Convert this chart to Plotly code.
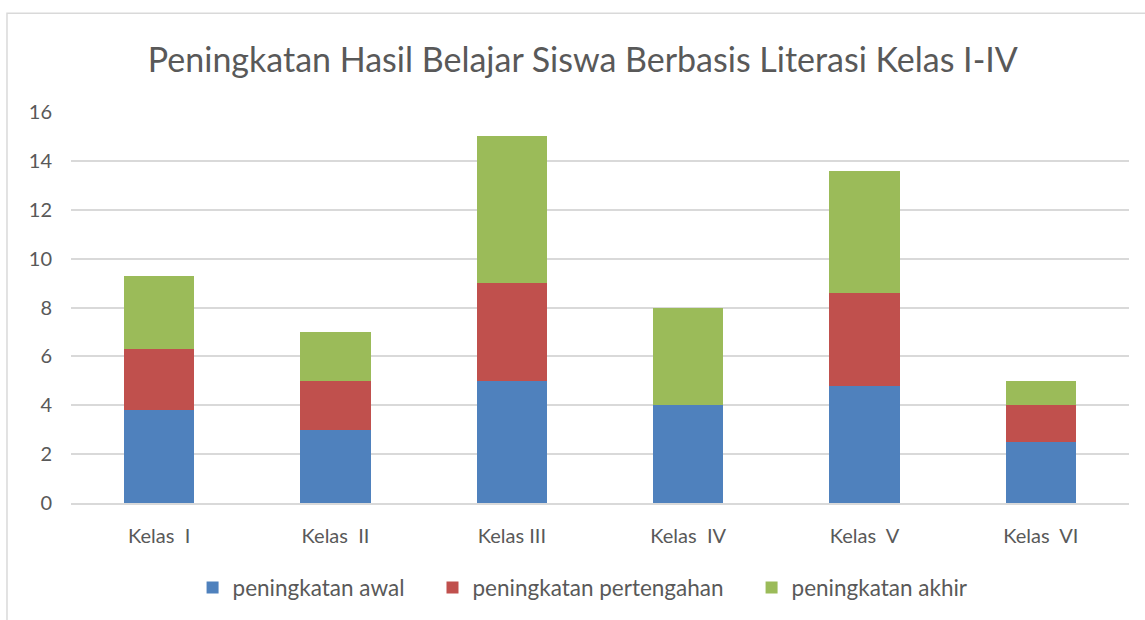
import plotly.graph_objects as go

categories = ["Kelas  I", "Kelas  II", "Kelas III", "Kelas  IV", "Kelas  V", "Kelas  VI"]
awal = [3.8, 3, 5, 4, 4.8, 2.5]
pertengahan = [2.5, 2, 4, 0, 3.8, 1.5]
akhir = [3, 2, 6, 4, 5, 1]
series_names = ["peningkatan awal", "peningkatan pertengahan", "peningkatan akhir"]
colors = ["#4f81bd", "#c0504d", "#9bbb59"]

pad = "\u00a0" * 4
fig = go.Figure()
for i, (name, vals, col) in enumerate(zip(series_names, [awal, pertengahan, akhir], colors)):
    label = name + (pad if i < len(series_names) - 1 else "")
    fig.add_trace(go.Bar(x=categories, y=vals, name=label, marker_color=col,
                         marker_line_width=0))

font_family = "Lato, 'Open Sans', sans-serif"
fig.update_layout(
    barmode="stack",
    bargap=0.6,
    width=1145, height=620,
    paper_bgcolor="white", plot_bgcolor="white",
    margin=dict(l=71, r=16, t=112, b=116),
    title=dict(text="Peningkatan Hasil Belajar Siswa Berbasis Literasi Kelas I-IV",
               x=0.509, xanchor="center", y=0.903, yanchor="middle",
               font=dict(family=font_family, size=34, color="#595959")),
    font=dict(family=font_family, size=20, color="#595959"),
    legend=dict(orientation="h", x=0.484, xanchor="center", y=-0.214, yanchor="middle",
                font=dict(size=22.5, color="#595959"), traceorder="normal",
                itemwidth=30),
    shapes=[dict(type="rect", xref="paper", yref="paper",
                 x0=-0.0605, x1=1.1, y0=-0.5, y1=1.2526,
                 line=dict(color="#d9d9d9", width=1.5), layer="below")],
)
fig.update_yaxes(range=[0, 16], dtick=2, showgrid=True, gridcolor="#d9d9d9", gridwidth=1.5,
                 zeroline=False, showline=False, ticks="", ticklabelstandoff=18,
                 automargin=False,
                 tickfont=dict(size=20, color="#595959"))
fig.update_xaxes(showline=True, linecolor="#d9d9d9", linewidth=1.5, ticks="",
                 automargin=False,
                 tickfont=dict(size=20, color="#595959"), ticklabelstandoff=14)

fig.write_html("out.html", config={"displayModeBar": False},
               post_script="document.body.style.margin='0';")
